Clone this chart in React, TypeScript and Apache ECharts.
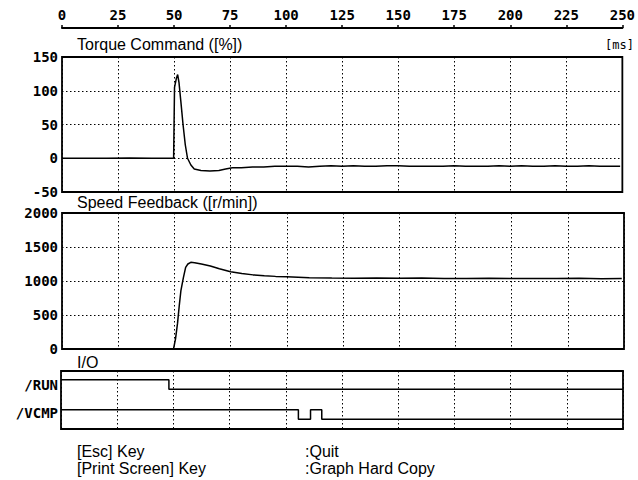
import React, { useEffect, useRef } from "react";
import * as echarts from "echarts";

// ---- data ----
const timeTicks = [0, 25, 50, 75, 100, 125, 150, 175, 200, 225, 250];

const torqueTime = [0, 10, 20, 30, 40, 49.8, 50.2, 51, 51.6, 52.2, 53, 54, 55, 56, 57.5, 59, 62, 66, 70, 73, 76, 80, 85, 90, 95, 100, 105, 110, 115, 120, 125, 130, 135, 140, 145, 150, 155, 160, 165, 170, 175, 180, 185, 190, 195, 200, 205, 210, 215, 220, 225, 230, 235, 240, 245, 249];
const torqueVal = [0, 0, 0, 0.5, 0, 0, 105, 118, 124, 112, 85, 50, 20, 0, -10, -16, -18, -19, -18, -16, -14, -14, -13, -13, -12, -12, -12, -13, -12, -11, -12, -11, -12, -12, -11, -11, -12, -12, -12, -12, -11, -12, -12, -12, -11, -12, -11, -12, -12, -11, -12, -12, -11, -12, -12, -12];

const speedTime = [0, 20, 40, 49.6, 50.5, 51.4, 52.2, 52.9, 54, 55, 56, 57.3, 59, 62, 66, 70, 75, 80, 85, 90, 95, 100, 105, 110, 120, 130, 140, 150, 160, 170, 180, 190, 200, 210, 220, 230, 240, 249];
const speedVal = [0, 0, 0, 0, 150, 380, 650, 860, 1050, 1200, 1250, 1275, 1270, 1250, 1220, 1180, 1135, 1110, 1090, 1077, 1068, 1062, 1055, 1048, 1043, 1040, 1045, 1040, 1044, 1038, 1035, 1040, 1035, 1038, 1035, 1040, 1032, 1035];

const runTime = [0, 48, 48, 250];
const runVal = [5.1, 5.1, 4.1, 4.1];

const vcmpTime = [0, 105.6, 105.6, 111, 111, 116, 116, 250];
const vcmpVal = [2.0, 2.0, 1.0, 1.0, 2.0, 2.0, 1.0, 1.0];

const torqueTicks = [-50, 0, 50, 100, 150];
const speedTicks = [0, 500, 1000, 1500, 2000];

const pairs = (xs: number[], ys: number[]) => xs.map((x, i) => [x, ys[i]]);

const MONO = '"DejaVu Sans Mono", monospace';
const SANS = '"Liberation Sans", Arial, sans-serif';

export default function App() {
  const ref = useRef<HTMLDivElement>(null);
  useEffect(() => {
    if (!ref.current) return;
    const chart = echarts.init(ref.current, null, { renderer: "svg" });
    const dotted = { color: "#000", width: 1, type: [1.5, 2.5] as any };
    const gridCommon = {
      show: true,
      borderColor: "#000",
      borderWidth: 1.8,
      backgroundColor: "transparent",
    };
    const plainLabel = (v: number) => String(v);
    const hiddenX = (gi: number) => ({
      gridIndex: gi,
      type: "value",
      min: timeTicks[0],
      max: timeTicks[timeTicks.length - 1],
      interval: 25,
      axisLine: { show: false, onZero: false },
      axisTick: { show: false },
      axisLabel: { show: false },
      splitLine: { show: true, lineStyle: dotted },
    });
    const lineSeries = (xi: number, data: number[][]) => ({
      type: "line",
      xAxisIndex: xi,
      yAxisIndex: xi,
      data,
      showSymbol: false,
      symbol: "none",
      lineStyle: { color: "#000", width: 1.5 },
      clip: true,
    });
    const txt = (x: number, y: number, text: string, font: string, align = "left") => ({
      type: "text",
      x,
      y,
      style: {
        text,
        font,
        fill: "#000",
        textAlign: align,
        align,
        textVerticalAlign: "middle",
        verticalAlign: "middle",
      },
    });
    const option: any = {
      animation: false,
      backgroundColor: "#fff",
      grid: [
        { ...gridCommon, left: 62, right: 14, top: 57, height: 135 },
        { ...gridCommon, left: 62, right: 14, top: 213, height: 136 },
        { ...gridCommon, left: 61, right: 15, top: 371, height: 58 },
      ],
      xAxis: [
        {
          gridIndex: 0,
          type: "value",
          position: "top",
          offset: 29,
          min: timeTicks[0],
          max: timeTicks[timeTicks.length - 1],
          interval: 25,
          axisLine: { show: true, onZero: false, lineStyle: { color: "#000", width: 2 } },
          axisTick: { show: true, length: 3, lineStyle: { color: "#000", width: 1.5 } },
          axisLabel: {
            show: true,
            margin: 6,
            color: "#000",
            fontFamily: MONO,
            fontWeight: "bold",
            fontSize: 14,
            formatter: plainLabel,
          },
          splitLine: { show: true, lineStyle: dotted },
        },
        hiddenX(1),
        hiddenX(2),
      ],
      yAxis: [
        {
          gridIndex: 0,
          type: "value",
          min: torqueTicks[0],
          max: torqueTicks[torqueTicks.length - 1],
          interval: 50,
          axisLine: { show: false, onZero: false },
          axisTick: { show: false },
          axisLabel: { color: "#000", fontFamily: MONO, fontWeight: "bold", fontSize: 14, margin: 4, formatter: plainLabel },
          splitLine: { show: true, lineStyle: dotted },
        },
        {
          gridIndex: 1,
          type: "value",
          min: speedTicks[0],
          max: speedTicks[speedTicks.length - 1],
          interval: 500,
          axisLine: { show: false, onZero: false },
          axisTick: { show: false },
          axisLabel: { color: "#000", fontFamily: MONO, fontWeight: "bold", fontSize: 14, margin: 4, formatter: plainLabel },
          splitLine: { show: true, lineStyle: dotted },
        },
        {
          gridIndex: 2,
          type: "value",
          min: 0,
          max: 6,
          axisLine: { show: false, onZero: false },
          axisTick: { show: false },
          axisLabel: { show: false },
          splitLine: { show: false },
        },
      ],
      series: [
        lineSeries(0, pairs(torqueTime, torqueVal)),
        lineSeries(1, pairs(speedTime, speedVal)),
        lineSeries(2, pairs(runTime, runVal)),
        lineSeries(2, pairs(vcmpTime, vcmpVal)),
      ],
      graphic: [
        txt(77, 44, "Torque Command ([%])", `16px ${SANS}`),
        txt(605, 45, "[ms]", `12px ${MONO}`),
        txt(77, 202, "Speed Feedback ([r/min])", `16px ${SANS}`),
        txt(77, 362, "I/O", `16px ${SANS}`),
        txt(58, 385, "/RUN", `bold 14px ${MONO}`, "right"),
        txt(58, 413, "/VCMP", `bold 14px ${MONO}`, "right"),
        txt(77, 451, "[Esc] Key", `16px ${SANS}`),
        txt(77, 468, "[Print Screen] Key", `16px ${SANS}`),
        txt(305, 451, ":Quit", `16px ${SANS}`),
        txt(305, 468, ":Graph Hard Copy", `16px ${SANS}`),
      ],
    };
    chart.setOption(option);
    return () => chart.dispose();
  }, []);
  return (
    <div
      ref={ref}
      style={{ position: "fixed", left: 0, top: 0, width: 638, height: 480, background: "#fff" }}
    />
  );
}
